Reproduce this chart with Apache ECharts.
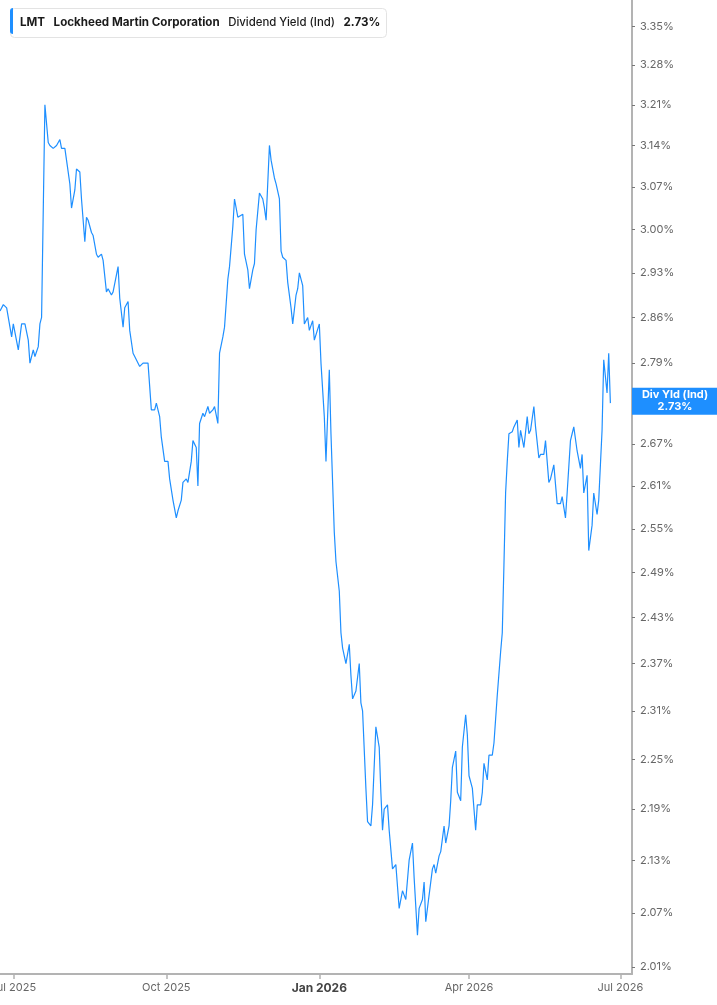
<!DOCTYPE html>
<html>
<head>
<meta charset="utf-8">
<title>LMT Dividend Yield</title>
<script src="https://cdn.jsdelivr.net/npm/echarts@6/dist/echarts.min.js"></script>
<style>
  html, body { margin: 0; padding: 0; background: #fff; }
  #main { width: 717px; height: 1005px; }
</style>
</head>
<body>
<div id="main"></div>
<script>
// dividend yield (%)
var dates = [
  '2025-06-23','2025-06-25','2025-06-27','2025-06-30','2025-07-01','2025-07-02','2025-07-04','2025-07-06','2025-07-08','2025-07-10','2025-07-11','2025-07-13','2025-07-14','2025-07-16','2025-07-17','2025-07-18','2025-07-20','2025-07-22','2025-07-23','2025-07-25','2025-07-27','2025-07-29','2025-07-30',
  '2025-08-01','2025-08-02','2025-08-04','2025-08-05','2025-08-07','2025-08-08','2025-08-10','2025-08-11','2025-08-13','2025-08-14','2025-08-15','2025-08-17','2025-08-18','2025-08-20','2025-08-21','2025-08-23','2025-08-24','2025-08-26','2025-08-27','2025-08-29','2025-08-30',
  '2025-09-02','2025-09-03','2025-09-05','2025-09-06','2025-09-08','2025-09-09','2025-09-11','2025-09-12','2025-09-15','2025-09-17','2025-09-18','2025-09-20','2025-09-21','2025-09-22','2025-09-24','2025-09-25','2025-09-27','2025-09-28','2025-09-30',
  '2025-10-02','2025-10-03','2025-10-05','2025-10-07','2025-10-08','2025-10-10','2025-10-11','2025-10-13','2025-10-14','2025-10-16','2025-10-17','2025-10-19','2025-10-20','2025-10-21','2025-10-23','2025-10-24','2025-10-26','2025-10-27','2025-10-29','2025-10-30',
  '2025-11-01','2025-11-02','2025-11-04','2025-11-05','2025-11-07','2025-11-08','2025-11-10','2025-11-11','2025-11-13','2025-11-14','2025-11-16','2025-11-17','2025-11-19','2025-11-20','2025-11-22','2025-11-23','2025-11-24','2025-11-26','2025-11-28','2025-11-29','2025-11-30',
  '2025-12-02','2025-12-03','2025-12-05','2025-12-06','2025-12-08','2025-12-09','2025-12-10','2025-12-12','2025-12-13','2025-12-15','2025-12-16','2025-12-18','2025-12-19','2025-12-20','2025-12-22','2025-12-23','2025-12-25','2025-12-26','2025-12-28','2025-12-29','2025-12-30',
  '2026-01-01','2026-01-02','2026-01-04','2026-01-05','2026-01-07','2026-01-08','2026-01-10','2026-01-11','2026-01-13','2026-01-14','2026-01-15','2026-01-17','2026-01-19','2026-01-20','2026-01-21','2026-01-23','2026-01-25','2026-01-26','2026-01-27','2026-01-29','2026-01-30',
  '2026-02-01','2026-02-02','2026-02-04','2026-02-06','2026-02-07','2026-02-08','2026-02-09','2026-02-11','2026-02-12','2026-02-14','2026-02-16','2026-02-17','2026-02-18','2026-02-20','2026-02-21','2026-02-22','2026-02-24','2026-02-26','2026-02-27',
  '2026-03-01','2026-03-02','2026-03-04','2026-03-05','2026-03-06','2026-03-08','2026-03-10','2026-03-11','2026-03-12','2026-03-14','2026-03-15','2026-03-17','2026-03-18','2026-03-20','2026-03-21','2026-03-22','2026-03-24','2026-03-25','2026-03-27','2026-03-28','2026-03-30','2026-03-31',
  '2026-04-01','2026-04-03','2026-04-05','2026-04-06','2026-04-08','2026-04-09','2026-04-10','2026-04-12','2026-04-13','2026-04-15','2026-04-16','2026-04-18','2026-04-20','2026-04-21','2026-04-22','2026-04-23','2026-04-24','2026-04-25','2026-04-27','2026-04-28','2026-04-30',
  '2026-05-01','2026-05-02','2026-05-04','2026-05-06','2026-05-07','2026-05-08','2026-05-10','2026-05-11','2026-05-13','2026-05-14','2026-05-16','2026-05-17','2026-05-19','2026-05-20','2026-05-22','2026-05-23','2026-05-24','2026-05-26','2026-05-27','2026-05-29','2026-05-30',
  '2026-06-01','2026-06-02','2026-06-03','2026-06-05','2026-06-07','2026-06-08','2026-06-09','2026-06-11','2026-06-12','2026-06-14','2026-06-15','2026-06-17','2026-06-18','2026-06-20','2026-06-21','2026-06-23','2026-06-24','2026-06-25'
];
var yields = [
  2.87, 2.88, 2.875, 2.83, 2.85, 2.85, 2.81, 2.85, 2.85, 2.825, 2.79, 2.81, 2.80, 2.815, 2.85, 2.86, 3.21, 3.145, 3.14, 3.135, 3.14, 3.15, 3.135,
  3.135, 3.115, 3.075, 3.035, 3.065, 3.10, 3.095, 3.05, 2.98, 3.02, 3.015, 2.995, 2.99, 2.96, 2.955, 2.96, 2.95, 2.90, 2.905, 2.895, 2.90,
  2.94, 2.89, 2.845, 2.875, 2.885, 2.84, 2.805, 2.80, 2.785, 2.79, 2.787, 2.79, 2.755, 2.72, 2.72, 2.73, 2.71, 2.68, 2.645,
  2.645, 2.62, 2.59, 2.565, 2.575, 2.59, 2.615, 2.62, 2.615, 2.645, 2.675, 2.665, 2.61, 2.70, 2.715, 2.71, 2.725, 2.715, 2.72, 2.725,
  2.70, 2.805, 2.83, 2.845, 2.92, 2.94, 3.005, 3.05, 3.02, 3.02, 3.025, 2.96, 2.935, 2.905, 2.935, 2.945, 3.00, 3.06, 3.05, 3.035, 3.015,
  3.14, 3.115, 3.085, 3.075, 3.05, 2.965, 2.955, 2.95, 2.915, 2.875, 2.85, 2.895, 2.905, 2.93, 2.91, 2.85, 2.86, 2.84, 2.855, 2.825, 2.825,
  2.85, 2.79, 2.71, 2.645, 2.78, 2.685, 2.545, 2.505, 2.465, 2.41, 2.39, 2.37, 2.395, 2.355, 2.325, 2.335, 2.37, 2.32, 2.31, 2.215, 2.175,
  2.17, 2.195, 2.29, 2.265, 2.21, 2.165, 2.19, 2.195, 2.165, 2.12, 2.125, 2.125, 2.075, 2.095, 2.09, 2.085, 2.13, 2.15, 2.11,
  2.045, 2.075, 2.085, 2.105, 2.06, 2.09, 2.12, 2.125, 2.115, 2.135, 2.14, 2.17, 2.15, 2.17, 2.20, 2.24, 2.26, 2.21, 2.20, 2.265, 2.305, 2.28,
  2.23, 2.215, 2.165, 2.195, 2.195, 2.21, 2.245, 2.225, 2.255, 2.255, 2.27, 2.33, 2.385, 2.41, 2.50, 2.60, 2.645, 2.685, 2.688, 2.695, 2.705,
  2.665, 2.69, 2.665, 2.71, 2.685, 2.69, 2.725, 2.695, 2.65, 2.655, 2.655, 2.675, 2.615, 2.62, 2.64, 2.64, 2.585, 2.585, 2.595, 2.565, 2.60,
  2.675, 2.685, 2.695, 2.66, 2.635, 2.655, 2.60, 2.625, 2.52, 2.555, 2.60, 2.57, 2.59, 2.69, 2.795, 2.745, 2.805, 2.73
];
var xTicks = ['2025-07-01', '2025-10-01', '2026-01-01', '2026-04-01', '2026-07-01'];
var yTicks = [2.01, 2.07, 2.13, 2.19, 2.25, 2.31, 2.37, 2.43, 2.49, 2.55, 2.61, 2.67, 2.73, 2.79, 2.86, 2.93, 3.00, 3.07, 3.14, 3.21, 3.28, 3.35];
var lastYield = yields[yields.length - 1];

var months = ['Jan','Feb','Mar','Apr','May','Jun','Jul','Aug','Sep','Oct','Nov','Dec'];
var blue = '#1e8fff';
var xMin = Date.parse('2025-06-23');
var xMax = Date.parse('2026-07-08');

var chart = echarts.init(document.getElementById('main'));
var data = dates.map(function (d, i) { return [Date.parse(d), yields[i]]; });

var option = {
  animation: false,
  backgroundColor: '#fff',
  textStyle: { fontFamily: 'Inter, Roboto, sans-serif' },
  title: {
    left: 10,
    top: 8,
    padding: [6, 6, 6, 10],
    backgroundColor: '#fff',
    borderColor: '#e3e3e3',
    borderWidth: 1,
    borderRadius: 4,
    text: '{b|LMT}  {b|Lockheed Martin Corporation}  {m|Dividend Yield (Ind)}  {b|' + lastYield.toFixed(2) + '%}',
    textStyle: {
      rich: {
        b: { fontFamily: 'Inter', fontSize: 11.6, fontWeight: 'bold', color: '#1b1b1b' },
        m: { fontFamily: 'Inter', fontSize: 11.4, fontWeight: 500, color: '#1b1b1b' }
      }
    }
  },
  graphic: [{
    type: 'rect',
    left: 10,
    top: 8,
    z: 100,
    shape: { width: 3, height: 26, r: [3, 0, 0, 3] },
    style: { fill: blue }
  }],
  grid: { left: 0, right: 85, top: 0, bottom: 31, outerBoundsMode: 'none' },
  xAxis: {
    type: 'value',
    min: xMin,
    max: xMax,
    axisLine: { lineStyle: { color: '#b3b3b3', width: 2 } },
    axisTick: { customValues: xTicks.map(Date.parse), length: 5, lineStyle: { color: '#b3b3b3', width: 1.5 } },
    splitLine: { show: false },
    axisLabel: {
      customValues: xTicks.map(Date.parse),
      margin: 8,
      color: '#666',
      fontSize: 11,
      formatter: function (val) {
        var d = new Date(val);
        var m = months[d.getUTCMonth()];
        if (m === 'Jan') return '{y|Jan ' + d.getUTCFullYear() + '}';
        return m + ' ' + d.getUTCFullYear();
      },
      rich: {
        y: { fontSize: 12, fontWeight: 'bold', color: '#444', fontFamily: 'Inter' }
      }
    }
  },
  yAxis: {
    type: 'log',
    logBase: 10,
    position: 'right',
    min: 2.0024,
    max: 3.398,
    axisLine: { show: true, lineStyle: { color: '#b3b3b3', width: 2 } },
    axisTick: { show: true, customValues: yTicks, length: 3, lineStyle: { color: '#777' } },
    splitLine: { show: false },
    axisLabel: {
      customValues: yTicks,
      margin: 8,
      color: '#666',
      fontSize: 11,
      formatter: function (v) { return Number(v).toFixed(2) + '%'; }
    }
  },
  series: [{
    name: 'Div Yld (Ind)',
    type: 'line',
    data: data,
    showSymbol: false,
    lineStyle: { color: blue, width: 1.2 },
    itemStyle: { color: blue },
    markPoint: {
      silent: true,
      symbol: 'rect',
      symbolSize: [86, 27],
      symbolOffset: [43, -2],
      itemStyle: { color: blue },
      label: {
        show: true,
        position: 'inside',
        color: '#fff',
        fontFamily: 'Inter',
        fontWeight: 'bold',
        fontSize: 11,
        lineHeight: 12,
        formatter: function (p) { return 'Div Yld (Ind)\n' + Number(p.value).toFixed(2) + '%'; }
      },
      data: [{ coord: [xMax, lastYield], value: lastYield }]
    }
  }]
};

chart.setOption(option);
</script>
</body>
</html>
